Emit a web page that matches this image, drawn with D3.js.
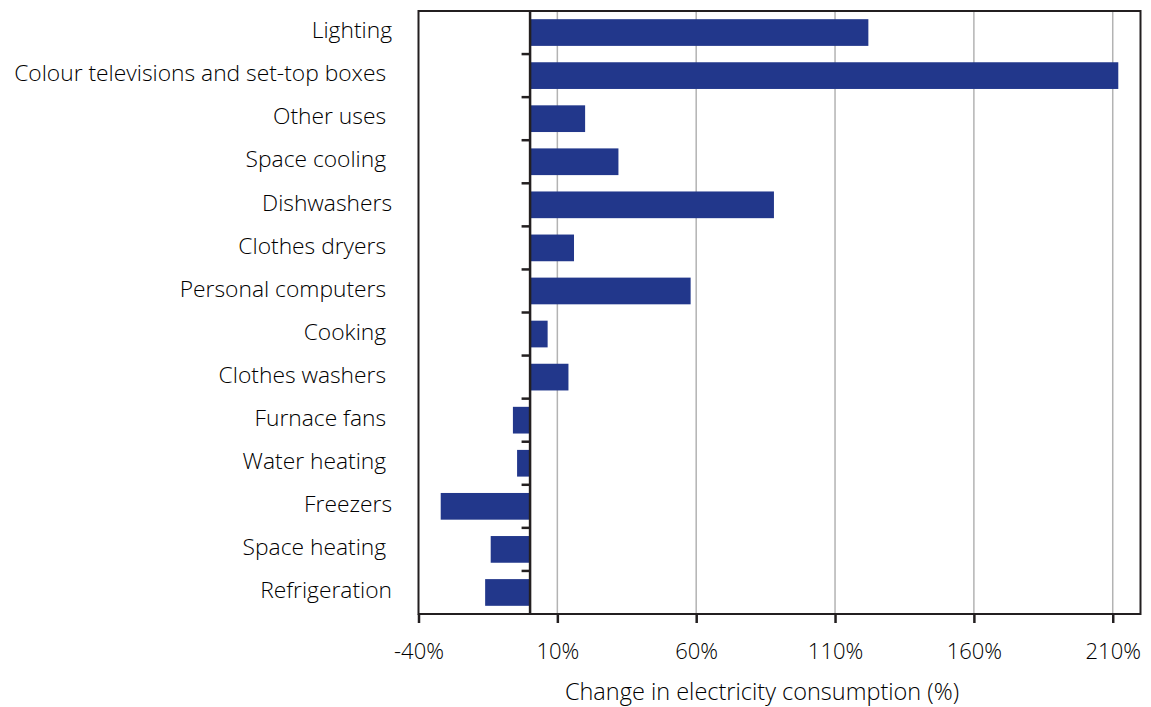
<!DOCTYPE html>
<html>
<head>
<meta charset="utf-8">
<script src="https://cdn.jsdelivr.net/npm/d3@7/dist/d3.min.js"></script>
<style>
  html, body { margin: 0; padding: 0; background: #fff; }
  svg text { font-family: "Open Sans", sans-serif; font-weight: 300; fill: #000; white-space: pre; }
</style>
</head>
<body>
<svg id="chart" width="1151" height="707"></svg>
<script>
const categories = ["Lighting", "Colour televisions and set-top boxes ", "Other uses ", "Space cooling ",
  "Dishwashers", "Clothes dryers ", "Personal computers ", "Cooking ", "Clothes washers ",
  "Furnace fans ", "Water heating ", "Freezers", "Space heating ", "Refrigeration"];
const values = [122, 212, 20, 32, 88, 16, 58, 6.5, 14, -6, -4.5, -32, -14, -16];
const xTicks = [-40, 10, 60, 110, 160, 210];
const xTitle = "Change in electricity consumption (%)";

const svg = d3.select("#chart");
const m = { left: 418.5, right: 1140.5, top: 11, bottom: 614 };
const fs = 22.8;

const x = d3.scaleLinear().domain([-40, 220]).range([m.left, m.right]);
const y = d3.scaleBand().domain(categories).range([m.top, m.bottom]).paddingInner(0.38).paddingOuter(0.19);

// gridlines
svg.append("g").selectAll("line").data(xTicks.filter(d => d > -40)).join("line")
  .attr("x1", d => x(d)).attr("x2", d => x(d))
  .attr("y1", m.top).attr("y2", m.bottom)
  .attr("stroke", "#b3b3b3").attr("stroke-width", 1.5);

// bars
svg.append("g").selectAll("rect").data(categories).join("rect")
  .attr("x", (d, i) => x(Math.min(0, values[i])))
  .attr("width", (d, i) => Math.abs(x(values[i]) - x(0)))
  .attr("y", d => y(d))
  .attr("height", y.bandwidth())
  .attr("fill", "#22378b");

// frame
svg.append("rect")
  .attr("x", m.left).attr("y", m.top)
  .attr("width", m.right - m.left).attr("height", m.bottom - m.top)
  .attr("fill", "none").attr("stroke", "#231f20").attr("stroke-width", 2);

// bottom axis
const xAxis = d3.axisBottom(x).tickValues(xTicks).tickSize(9).tickPadding(20)
  .tickFormat(d => d + "%");
const gx = svg.append("g").attr("transform", `translate(0,${m.bottom})`).call(xAxis);
gx.select(".domain").remove();
gx.selectAll(".tick line").attr("stroke", "#231f20").attr("stroke-width", 2.5);
gx.selectAll(".tick text").attr("font-size", 22).attr("font-family", null).attr("fill", "#000");

// zero line axis with category labels
const yAxis = d3.axisLeft(y).tickSize(0).tickPadding(0);
const gy = svg.append("g").attr("transform", `translate(${x(0)},0)`).call(yAxis);
gy.select(".domain").attr("stroke", "#231f20").attr("stroke-width", 2.5);
gy.selectAll(".tick text")
  .attr("x", 392 - x(0)).attr("dy", "0.25em")
  .attr("font-size", fs).attr("font-family", null).attr("fill", "#000");

// ticks between categories on zero line
const step = y.step();
const bounds = categories.slice(1).map(c => y(c) - step * y.paddingInner() / 2);
svg.append("g").selectAll("line").data(bounds).join("line")
  .attr("x1", x(0) - 8).attr("x2", x(0))
  .attr("y1", d => d).attr("y2", d => d)
  .attr("stroke", "#231f20").attr("stroke-width", 2.5);

// axis title
svg.append("text")
  .attr("x", 762).attr("y", 700)
  .attr("text-anchor", "middle").attr("font-size", 23.5)
  .text(xTitle);
</script>
</body>
</html>
